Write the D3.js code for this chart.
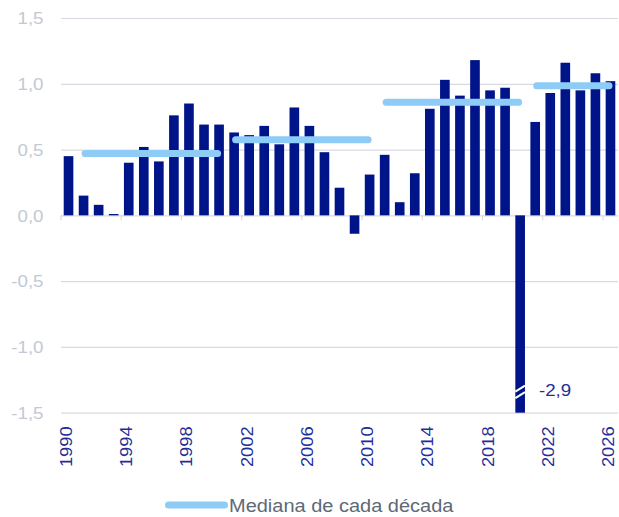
<!DOCTYPE html>
<html>
<head>
	<meta charset="utf-8">
	<script src="https://d3js.org/d3.v7.min.js"></script>
	<style>
		body { margin: 0; background: #fff; }
		svg { display: block; font-family: "Liberation Sans", Arial, sans-serif; }
	</style>
</head>
<body>
	<div class="chart"></div>
	<script>
		// data
		var years = d3.range(1990, 2027);
		var values = [0.45, 0.15, 0.08, 0.01, 0.40, 0.52, 0.41, 0.76, 0.85, 0.69,
			0.69, 0.63, 0.61, 0.68, 0.54, 0.82, 0.68, 0.48, 0.21, -0.14,
			0.31, 0.46, 0.10, 0.32, 0.81, 1.03, 0.91, 1.18, 0.95, 0.97,
			-2.9, 0.71, 0.93, 1.16, 0.95, 1.08, 1.02];
		var medianFrom = [1991, 2001, 2011, 2021];
		var medianTo = [2000, 2010, 2020, 2026];
		var medianValues = [0.47, 0.575, 0.86, 0.985];
		var yTicks = [-1.5, -1.0, -0.5, 0.0, 0.5, 1.0, 1.5];
		var xLabelYears = [1990, 1994, 1998, 2002, 2006, 2010, 2014, 2018, 2022, 2026];
		var legendLabel = "Mediana de cada década";

		var w = 619, h = 517;
		var padL = 61, padR = 618, padT = 18, padB = 412.7;
		var barColor = "#00148a", medianColor = "#8ecbf6", gridColor = "#d6dbe3";

		var locale = d3.formatLocale({decimal: ",", thousands: ".", grouping: [3], currency: ["", "€"], minus: "-"});
		var fmt = locale.format(".1f");

		var svg = d3.select(".chart")
			.append("svg")
			.attr("width", w)
			.attr("height", h);

		var x = d3.scaleBand()
			.domain(years)
			.range([padL, padR])
			.paddingInner(0.36)
			.paddingOuter(0.18);
		var y = d3.scaleLinear()
			.domain([-1.5, 1.5])
			.range([padB, padT]);

		// y axis + gridlines
		var yAxis = svg.append("g")
			.attr("transform", "translate(" + padL + ",0)")
			.call(d3.axisLeft(y).tickValues(yTicks).tickSize(-(padR - padL)).tickFormat(fmt));
		yAxis.select(".domain").remove();
		yAxis.selectAll("line").attr("stroke", gridColor).attr("stroke-width", 1.2);
		yAxis.selectAll("text")
			.attr("x", 0)
			.attr("dy", "0.36em")
			.attr("transform", "translate(" + (43.5 - padL) + ",0) scale(1.17,1)")
			.attr("fill", "#c2c9d4")
			.attr("font-size", 16)
			.attr("font-family", "Liberation Sans, Arial, sans-serif");

		// tick marks under the zero line, at band edges
		var edge = (x.step() - x.bandwidth()) / 2;
		svg.append("g")
			.selectAll("line")
			.data(xLabelYears)
			.enter()
			.append("line")
			.attr("x1", function(d) { return x(d) - edge; })
			.attr("x2", function(d) { return x(d) - edge; })
			.attr("y1", y(0))
			.attr("y2", y(0) + 5)
			.attr("stroke", gridColor)
			.attr("stroke-width", 1.2);

		// bars
		svg.append("g")
			.selectAll("rect")
			.data(years)
			.enter()
			.append("rect")
			.attr("fill", barColor)
			.attr("x", function(d) { return x(d); })
			.attr("width", x.bandwidth())
			.attr("y", function(d, i) { return y(Math.max(0, values[i])); })
			.attr("height", function(d, i) {
				var v = Math.max(values[i], y.domain()[0]);
				return Math.abs(y(v) - y(0));
			});

		// break marks on the clipped bar
		var cut = years[values.indexOf(d3.min(values))];
		var bx = x(cut), yb = y(y.domain()[0]);
		svg.append("g")
			.selectAll("line")
			.data([21, 14.5])
			.enter()
			.append("line")
			.attr("x1", bx)
			.attr("x2", bx + x.bandwidth())
			.attr("y1", function(d) { return yb - d; })
			.attr("y2", function(d) { return yb - d - 6; })
			.attr("stroke", "#fff")
			.attr("stroke-width", 2);
		svg.append("text")
			.attr("transform", "translate(" + (bx + x.bandwidth() + 14) + "," + (yb - 16.5) + ") scale(1.17,1)")
			.attr("fill", "#1f2f98")
			.attr("font-size", 16)
			.text(fmt(d3.min(values)));

		// decade medians
		svg.append("g")
			.selectAll("line")
			.data(medianValues)
			.enter()
			.append("line")
			.attr("x1", function(d, i) { return x(medianFrom[i]) + x.bandwidth() / 2 + 1.5; })
			.attr("x2", function(d, i) { return x(medianTo[i]) + x.bandwidth() / 2 - 1.5; })
			.attr("y1", function(d) { return y(d); })
			.attr("y2", function(d) { return y(d); })
			.attr("stroke", medianColor)
			.attr("stroke-width", 7)
			.attr("stroke-linecap", "round");

		// x labels
		var xAxis = svg.append("g")
			.attr("transform", "translate(0," + padB + ")")
			.call(d3.axisBottom(x).tickValues(xLabelYears).tickSize(0));
		xAxis.select(".domain").remove();
		xAxis.selectAll("text")
			.attr("transform", "rotate(-90) scale(1.15,1)")
			.attr("text-anchor", "end")
			.attr("x", -13.5 / 1.15)
			.attr("y", 3.5)
			.attr("dy", 0)
			.attr("fill", "#1f2f98")
			.attr("font-size", 16)
			.attr("font-family", "Liberation Sans, Arial, sans-serif");

		// legend
		var lg = svg.append("g").attr("transform", "translate(165,505)");
		lg.append("line")
			.attr("x1", 3.5)
			.attr("x2", 59.5)
			.attr("stroke", medianColor)
			.attr("stroke-width", 7)
			.attr("stroke-linecap", "round");
		lg.append("text")
			.attr("transform", "translate(64,6.7) scale(1.08,1)")
			.attr("fill", "#5e6977")
			.attr("font-size", 18.5)
			.text(legendLabel);
	</script>
</body>
</html>
